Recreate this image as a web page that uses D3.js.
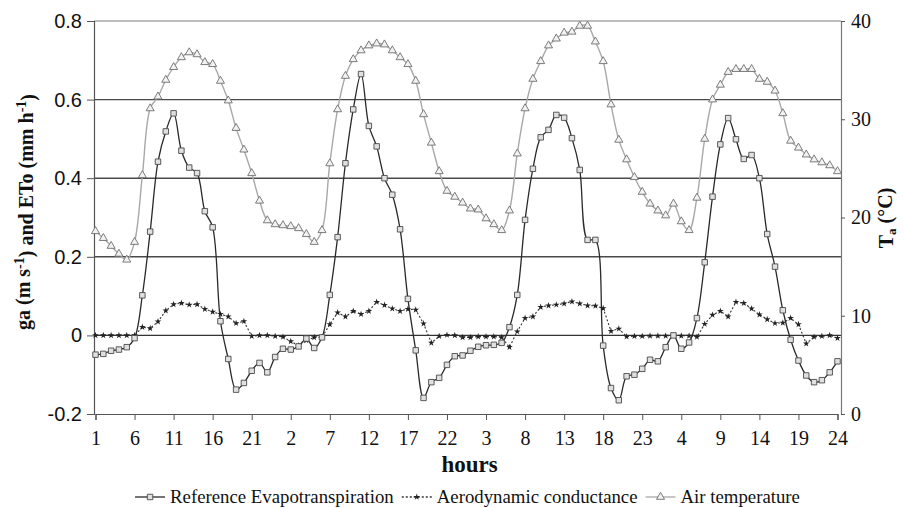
<!DOCTYPE html>
<html>
<head>
<meta charset="utf-8">
<script src="https://cdn.jsdelivr.net/npm/d3@7"></script>
<style>
  body { margin: 0; background: #fff; }
  svg { display: block; }
</style>
</head>
<body>
<div id="chart"></div>
<script>
// Hourly series over four days (96 points)
const hourLabels = [
  1,2,3,4,5,6,7,8,9,10,11,12,13,14,15,16,17,18,19,20,21,22,23,24,
  1,2,3,4,5,6,7,8,9,10,11,12,13,14,15,16,17,18,19,20,21,22,23,24,
  1,2,3,4,5,6,7,8,9,10,11,12,13,14,15,16,17,18,19,20,21,22,23,24,
  1,2,3,4,5,6,7,8,9,10,11,12,13,14,15,16,17,18,19,20,21,22,23,24
];

const refET = [
  -0.049,-0.047,-0.039,-0.036,-0.030,-0.007,0.102,0.264,0.442,0.519,0.565,0.470,
  0.427,0.413,0.316,0.275,0.036,-0.060,-0.138,-0.121,-0.090,-0.070,-0.094,-0.055,
  -0.034,-0.036,-0.028,-0.008,-0.032,-0.005,0.103,0.250,0.438,0.575,0.665,0.533,
  0.481,0.400,0.358,0.270,0.093,-0.038,-0.159,-0.119,-0.108,-0.075,-0.053,-0.051,
  -0.039,-0.029,-0.025,-0.024,-0.019,0.021,0.103,0.294,0.424,0.504,0.523,0.561,
  0.554,0.502,0.421,0.243,0.243,-0.026,-0.134,-0.165,-0.104,-0.100,-0.085,-0.062,
  -0.066,-0.030,0.000,-0.034,-0.018,0.044,0.186,0.353,0.486,0.553,0.499,0.449,
  0.459,0.400,0.258,0.175,0.064,-0.011,-0.064,-0.102,-0.119,-0.114,-0.094,-0.066
];

const aeroCond = [
  0,0,0,0,0,0,0.021,0.018,0.035,0.063,0.079,0.082,
  0.078,0.079,0.067,0.060,0.054,0.048,0.031,0.036,-0.002,0,0,-0.002,
  -0.004,-0.015,-0.026,-0.013,-0.005,-0.005,0.028,0.058,0.048,0.062,0.054,0.062,
  0.085,0.077,0.068,0.062,0.067,0.065,0.030,-0.019,-0.002,0.001,0,-0.005,
  -0.005,-0.003,-0.003,-0.003,-0.005,-0.030,0.010,0.044,0.048,0.072,0.076,0.078,
  0.081,0.086,0.081,0.076,0.075,0.069,0.011,0.017,-0.003,-0.002,-0.002,-0.001,
  -0.001,-0.001,-0.001,-0.001,-0.001,-0.004,0.029,0.052,0.062,0.048,0.085,0.082,
  0.068,0.053,0.041,0.031,0.032,0.044,0.028,-0.021,-0.004,-0.002,0,-0.007
];

const airTemp = [
  18.6,17.9,17.1,16.3,15.7,17.5,24.3,31.1,32.3,34.0,35.3,36.3,
  36.8,36.6,35.8,35.6,33.9,31.9,29.1,26.9,24.5,21.7,19.7,19.3,
  19.2,19.1,18.9,18.3,17.5,18.7,25.5,31.0,34.4,36.1,37.0,37.5,
  37.7,37.6,37.0,36.3,35.6,33.9,30.5,27.6,24.7,22.7,22.1,21.5,
  20.9,20.8,19.9,19.3,18.7,20.7,26.5,31.1,34.1,35.9,37.5,38.2,
  38.8,38.9,39.5,39.5,37.9,35.9,31.5,27.9,25.9,24.1,22.6,21.4,
  20.7,20.2,21.4,19.6,18.7,22.0,28.0,32.0,33.5,34.8,35.1,35.1,
  35.1,34.1,33.8,32.9,30.6,27.8,27.1,26.4,25.9,25.6,25.3,24.7
];

const leftTicks = [-0.2, 0, 0.2, 0.4, 0.6, 0.8];
const rightTicks = [0, 10, 20, 30, 40];
const gridValues = [0.2, 0.4, 0.6];
const legendNames = ["Reference Evapotranspiration", "Aerodynamic conductance", "Air temperature"];

const W = 904, H = 508;
const margin = {top: 21, right: 63, bottom: 94, left: 94};
const serif = "'Liberation Serif', 'Times New Roman', serif";
const sans = "'Liberation Sans', Arial, sans-serif";

const svg = d3.select("#chart").append("svg")
  .attr("width", W)
  .attr("height", H);

const x = d3.scaleLinear()
  .domain([0, hourLabels.length - 1])
  .range([margin.left + 1.5, W - margin.right - 3.5]);

const y = d3.scaleLinear()
  .domain([-0.2, 0.8])
  .range([H - margin.bottom, margin.top]);

const yT = d3.scaleLinear()
  .domain([0, 40])
  .range([H - margin.bottom, margin.top]);

const plotL = margin.left, plotR = W - margin.right;

// grid lines
svg.append("line")
  .attr("x1", plotL).attr("x2", plotR)
  .attr("y1", y(0.8)).attr("y2", y(0.8))
  .attr("stroke", "#bdbdbd").attr("stroke-width", 2);

svg.selectAll(".grid")
  .data(gridValues)
  .enter().append("line")
    .attr("class", "grid")
    .attr("x1", plotL).attr("x2", plotR)
    .attr("y1", d => y(d)).attr("y2", d => y(d))
    .attr("stroke", "#4a4a4a").attr("stroke-width", 1.4);

svg.append("line")
  .attr("x1", plotL).attr("x2", plotR)
  .attr("y1", y(0)).attr("y2", y(0))
  .attr("stroke", "#333").attr("stroke-width", 1.4);

// left axis
const leftAxis = svg.append("g")
  .attr("transform", `translate(${plotL},0)`)
  .call(d3.axisLeft(y).tickValues(leftTicks).tickSize(7).tickPadding(5)
    .tickFormat(d => d === 0 ? "0" : d.toFixed(1)));
leftAxis.selectAll("text").attr("font-family", sans).attr("font-size", 20).attr("fill", "#111");

// bottom axis
const tickIdx = d3.range(0, hourLabels.length, 5);
const bottomAxis = svg.append("g")
  .attr("transform", `translate(0,${H - margin.bottom})`)
  .call(d3.axisBottom(x).tickValues(tickIdx).tickSize(6).tickPadding(11)
    .tickFormat(i => hourLabels[i]));
bottomAxis.selectAll("text").attr("font-family", serif).attr("font-size", 20).attr("fill", "#111");

// right axis
const rightAxis = svg.append("g")
  .attr("transform", `translate(${plotR},0)`)
  .call(d3.axisRight(yT).tickValues(rightTicks).tickSize(4).tickPadding(6));
rightAxis.selectAll("text").attr("font-family", serif).attr("font-size", 20).attr("fill", "#111");

[leftAxis, bottomAxis, rightAxis].forEach(a => {
  a.select(".domain").attr("stroke", "#555").attr("stroke-width", 1.2);
  a.selectAll(".tick line").attr("stroke", "#555");
});
rightAxis.select(".domain").attr("stroke", "#777");

// series lines
svg.append("path")
  .attr("d", d3.line().x((d, i) => x(i)).y(d => yT(d)).curve(d3.curveCatmullRom)(airTemp))
  .attr("fill", "none").attr("stroke", "#a8a8a8").attr("stroke-width", 1.4);

svg.append("path")
  .attr("d", d3.line().x((d, i) => x(i)).y(d => y(d))(aeroCond))
  .attr("fill", "none").attr("stroke", "#333").attr("stroke-width", 1.1)
  .attr("stroke-dasharray", "2,2");

svg.append("path")
  .attr("d", d3.line().x((d, i) => x(i)).y(d => y(d)).curve(d3.curveCatmullRom)(refET))
  .attr("fill", "none").attr("stroke", "#2a2a2a").attr("stroke-width", 1.3);

// markers
const tri = d3.symbol().type(d3.symbolTriangle).size(28);
const sq = d3.symbol().type(d3.symbolSquare).size(30);
const star = d3.symbol().type(d3.symbolStar).size(14);

svg.selectAll(".tmark")
  .data(airTemp)
  .enter().append("path")
    .attr("class", "tmark")
    .attr("d", tri)
    .attr("transform", (d, i) => `translate(${x(i)},${yT(d)})`)
    .attr("fill", "#f2f2f2").attr("stroke", "#6e6e6e").attr("stroke-width", 0.9);

svg.selectAll(".amark")
  .data(aeroCond)
  .enter().append("path")
    .attr("class", "amark")
    .attr("d", star)
    .attr("transform", (d, i) => `translate(${x(i)},${y(d)})`)
    .attr("fill", "#222");

svg.selectAll(".emark")
  .data(refET)
  .enter().append("path")
    .attr("class", "emark")
    .attr("d", sq)
    .attr("transform", (d, i) => `translate(${x(i)},${y(d)})`)
    .attr("fill", "#e0e0e0").attr("stroke", "#4a4a4a").attr("stroke-width", 0.9);

// axis titles
const lt = svg.append("text")
  .attr("transform", `translate(30,212) rotate(-90)`)
  .attr("text-anchor", "middle")
  .attr("font-family", serif).attr("font-size", 20).attr("font-weight", "bold")
  .attr("fill", "#111");
lt.append("tspan").text("ga (m s");
lt.append("tspan").attr("dy", "-0.45em").attr("font-size", 14).text("-1");
lt.append("tspan").attr("dy", "0.45em").text(") and ETo (mm h");
lt.append("tspan").attr("dy", "-0.45em").attr("font-size", 14).text("-1");
lt.append("tspan").attr("dy", "0.45em").text(")");

const rt = svg.append("text")
  .attr("transform", `translate(893,218) rotate(-90)`)
  .attr("text-anchor", "middle")
  .attr("font-family", serif).attr("font-size", 20).attr("font-weight", "bold")
  .attr("fill", "#111");
rt.append("tspan").text("T");
rt.append("tspan").attr("dy", "0.2em").attr("font-size", 13).text("a");
rt.append("tspan").attr("dy", "-0.2em").text(" (°C)");

svg.append("text")
  .attr("x", (plotL + plotR) / 2 + 2)
  .attr("y", 472)
  .attr("text-anchor", "middle")
  .attr("font-family", serif).attr("font-size", 23).attr("font-weight", "bold")
  .attr("fill", "#111")
  .text("hours");

// legend
const legend = svg.append("g");
const styles = [
  {stroke: "#2a2a2a", dash: null, sym: sq, fill: "#e0e0e0", mstroke: "#4a4a4a"},
  {stroke: "#333", dash: "2,2", sym: star, fill: "#222", mstroke: "none"},
  {stroke: "#a8a8a8", dash: null, sym: tri, fill: "#f2f2f2", mstroke: "#6e6e6e"}
];
let cx = 0;
legendNames.forEach((name, i) => {
  const g = legend.append("g").attr("transform", `translate(${cx},0)`);
  g.append("line").attr("x1", 0).attr("x2", 30).attr("y1", 0).attr("y2", 0)
    .attr("stroke", styles[i].stroke).attr("stroke-width", 1.3)
    .attr("stroke-dasharray", styles[i].dash);
  g.append("path").attr("d", styles[i].sym).attr("transform", "translate(15,0)")
    .attr("fill", styles[i].fill).attr("stroke", styles[i].mstroke).attr("stroke-width", 0.9);
  const t = g.append("text").attr("x", 35).attr("y", 6)
    .attr("font-family", serif).attr("font-size", 18.8).attr("fill", "#111")
    .text(name);
  cx += 35 + t.node().getComputedTextLength() + 8;
});
const legendW = cx - 8;
legend.attr("transform", `translate(${(plotL + plotR) / 2 - legendW / 2},497)`);
</script>
</body>
</html>
